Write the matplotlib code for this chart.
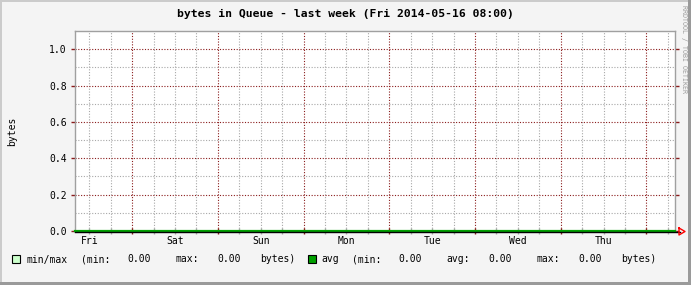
import matplotlib
matplotlib.use("Agg")
import matplotlib.pyplot as plt
import matplotlib.dates as mdates
from matplotlib.lines import Line2D
from matplotlib.patches import Rectangle
from matplotlib.transforms import blended_transform_factory
import datetime as dt
import numpy as np

# ---- data ----
title = "bytes in Queue - last week (Fri 2014-05-16 08:00)"
ylabel = "bytes"
t_start = dt.datetime(2014, 5, 9, 8, 0)
t_end = dt.datetime(2014, 5, 16, 8, 0)
sample_times = [t_start, t_end]
avg_values = [0.0, 0.0]
min_values = [0.0, 0.0]
max_values = [0.0, 0.0]
day_labels = ["Fri", "Sat", "Sun", "Mon", "Tue", "Wed", "Thu"]
y_ticks = [0.0, 0.2, 0.4, 0.6, 0.8, 1.0]
unit = "bytes"

W, H = 691, 285
fig = plt.figure(figsize=(W / 100, H / 100), dpi=100)
fig.patch.set_facecolor("#f4f4f4")

def fx(x):
    return x / W

def fy(y):
    return 1 - y / H

# outer frame
fig.add_artist(Rectangle((0, 0), fx(2), 1, transform=fig.transFigure, color="#cbcbcb", lw=0))
fig.add_artist(Rectangle((0, fy(2)), 1, 2 / H, transform=fig.transFigure, color="#cbcbcb", lw=0))
fig.add_artist(Rectangle((fx(688), 0), fx(3), 1, transform=fig.transFigure, color="#9a9a9a", lw=0))
fig.add_artist(Rectangle((0, 0), 1, 3 / H, transform=fig.transFigure, color="#9a9a9a", lw=0))

L, R, T, B = 75, 675, 31, 231
ax = fig.add_axes([fx(L), fy(B), (R - L) / W, (B - T) / H])
ax.set_facecolor("white")

x0 = mdates.date2num(t_start)
x1 = mdates.date2num(t_end)
ax.set_xlim(x0, x1)
ax.set_ylim(0, 1.1)

red = "#8a1c1c"
gray = "#a8a8a8"

ax.xaxis.set_major_locator(mdates.HourLocator(byhour=[0]))
ax.xaxis.set_minor_locator(mdates.HourLocator(byhour=[6, 12, 18]))
ax.xaxis.set_major_formatter(plt.NullFormatter())
ax.set_yticks(y_ticks)
ax.set_yticks(np.arange(0.1, 1.1, 0.2), minor=True)
ax.set_yticklabels([f"{v:.1f}" for v in y_ticks])

ax.grid(which="major", color=red, linestyle=(0, (1, 1.5)), lw=0.8)
ax.grid(which="minor", color=gray, linestyle=(0, (1, 1.5)), lw=0.8)
ax.set_axisbelow(True)

ax.tick_params(axis="y", which="major", direction="out", length=3, width=1, color=red,
               labelsize=7, pad=3, right=True, labelcolor="black")
ax.tick_params(axis="y", which="minor", length=0)
ax.tick_params(axis="x", which="major", direction="inout", length=5, width=1, color=red)
ax.tick_params(axis="x", which="minor", direction="inout", length=5, width=1, color=gray)
for lab in ax.get_yticklabels():
    lab.set_fontfamily("DejaVu Sans Mono")

for s in ["left", "top", "right"]:
    ax.spines[s].set_color("#a0a0a0")
    ax.spines[s].set_linewidth(1)
ax.spines["bottom"].set_visible(False)

# x axis line + arrow
fig.add_artist(Line2D([fx(75), fx(680)], [fy(231.5), fy(231.5)], transform=fig.transFigure,
                      color="black", lw=1))
fig.add_artist(Line2D([fx(679), fx(679), fx(685), fx(679)],
                      [fy(228), fy(235), fy(231.5), fy(228)], transform=fig.transFigure,
                      color="red", lw=1))

# series
ax.fill_between(sample_times, min_values, max_values, color="#ccffcc", lw=0)
ax.plot(sample_times, avg_values, color="#00a000", lw=1.6, clip_on=False, zorder=5)

# day labels at noon
trans = blended_transform_factory(ax.transData, fig.transFigure)
for i, lab in enumerate(day_labels):
    xn = mdates.date2num(dt.datetime(2014, 5, 9, 12) + dt.timedelta(days=i))
    ax.text(xn, fy(244), lab, transform=trans, ha="center", va="baseline",
            fontsize=7, family="DejaVu Sans Mono")

# title and labels
fig.text(fx(345), fy(14), title, ha="center", va="center", fontsize=8.2,
         family="DejaVu Sans Mono", fontweight="bold")
fig.text(fx(12.5), fy(131), ylabel, ha="center", va="center", rotation=90,
         fontsize=7, family="DejaVu Sans Mono")
fig.text(fx(684), fy(5), "RRDTOOL / TOBI OETIKER", ha="center", va="top", rotation=-90,
         fontsize=4.8, family="DejaVu Sans Mono", color="#9c9c9c")

# legend
def fmt(v):
    return f"{v:.2f}"

mm_min = min(min_values)
mm_max = max(max_values)
a_min = min(avg_values)
a_avg = float(np.mean(avg_values))
a_max = max(avg_values)

fig.add_artist(Rectangle((fx(12), fy(263)), 8 / W, 8 / H, transform=fig.transFigure,
                         facecolor="#ccffcc", edgecolor="black", lw=0.8))
fig.add_artist(Rectangle((fx(308), fy(263)), 8 / W, 8 / H, transform=fig.transFigure,
                         facecolor="#00a000", edgecolor="black", lw=0.8))
segments = [
    (26.7, "min/max"), (80.7, "(min:"), (127.7, fmt(mm_min)), (175.7, "max:"),
    (217.7, fmt(mm_max)), (259.7, unit + ")"),
    (321.7, "avg"), (351.7, "(min:"), (398.3, fmt(a_min)), (446.7, "avg:"),
    (488.3, fmt(a_avg)), (536.7, "max:"), (578.3, fmt(a_max)), (620.7, unit + ")"),
]
for x, s in segments:
    fig.text(fx(x), fy(262.5), s, ha="left", va="baseline", fontsize=7,
             family="DejaVu Sans Mono")

fig.savefig("out.png", dpi=100, facecolor=fig.get_facecolor())
